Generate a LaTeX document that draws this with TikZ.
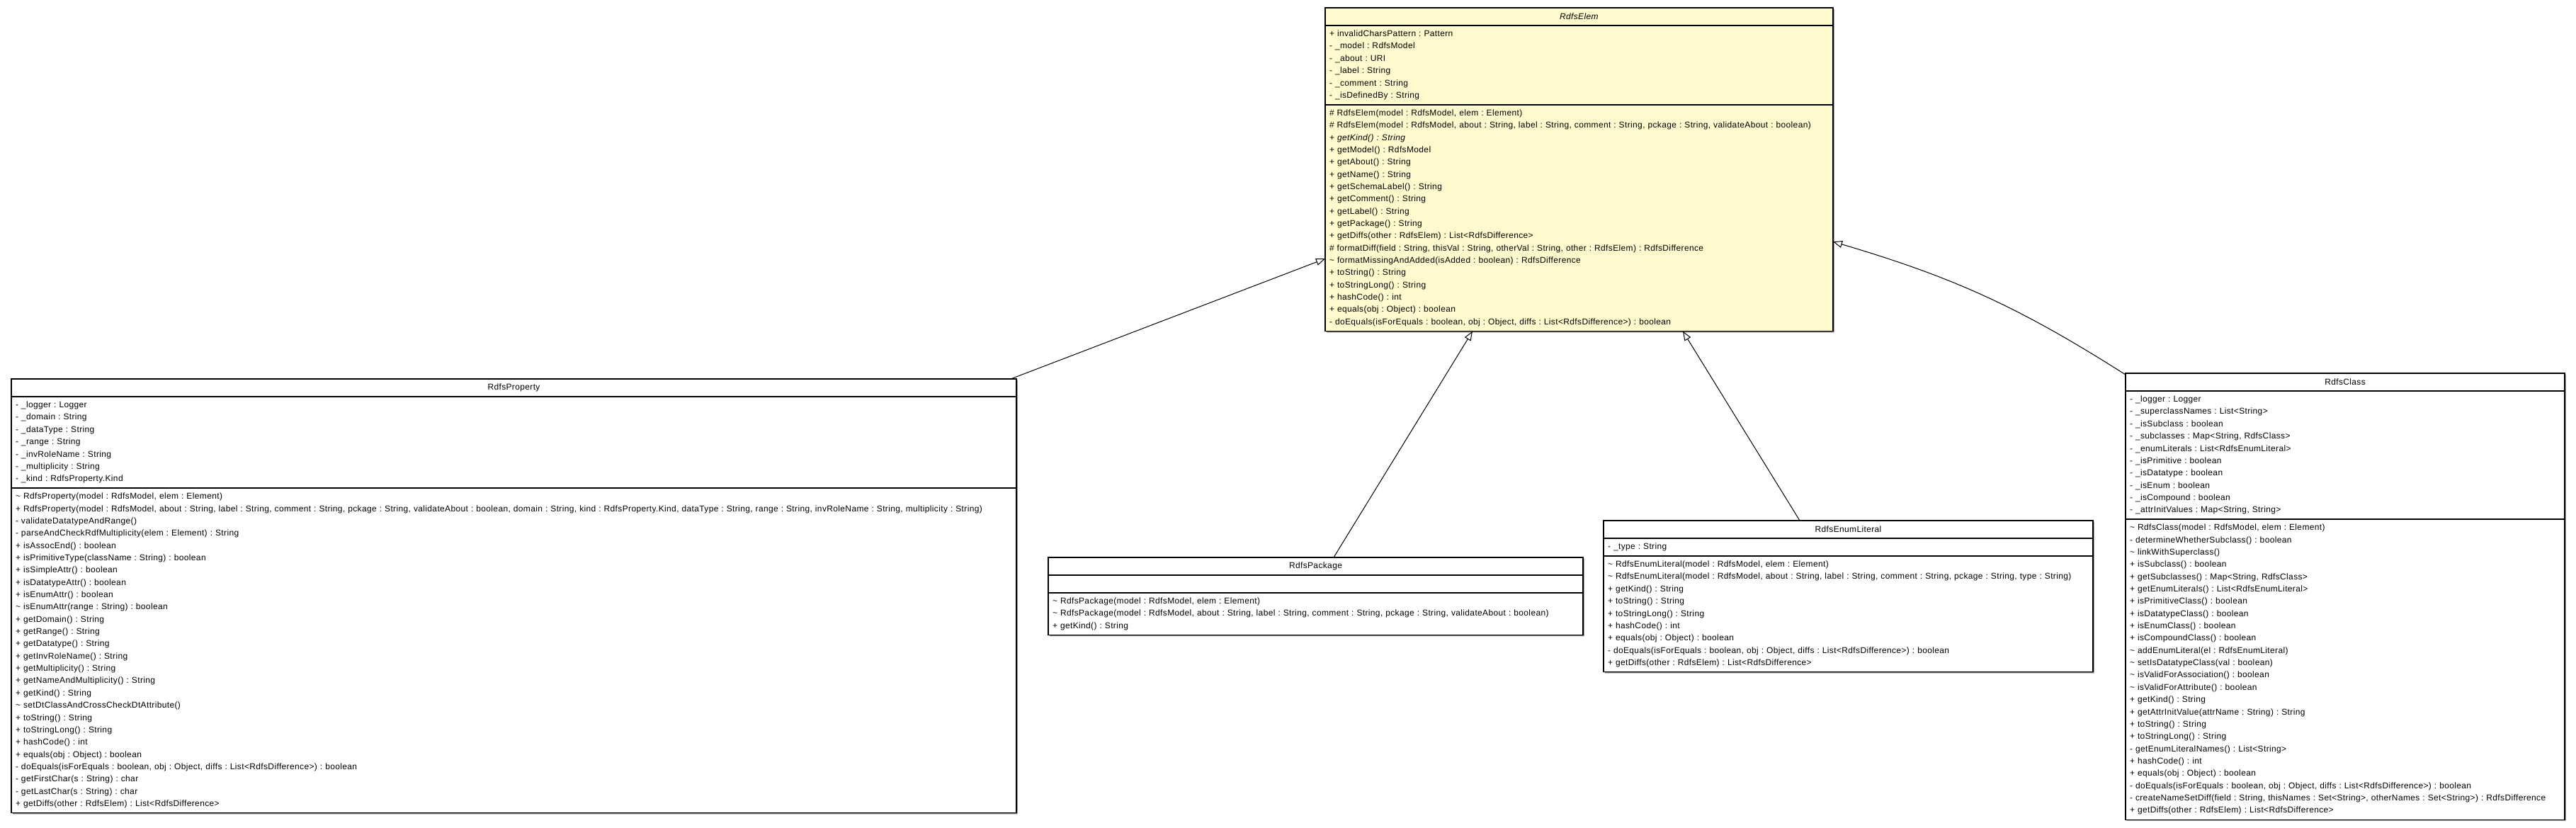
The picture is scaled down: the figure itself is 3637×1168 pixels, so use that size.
\documentclass[tikz,border=0pt]{standalone}
\usepackage{fontspec}
\setmainfont{Liberation Sans}[LetterSpace=3]
\usetikzlibrary{positioning,arrows.meta,backgrounds}
\definecolor{ElemYellow}{HTML}{FFFACD}
\definecolor{ShadowGray}{HTML}{6E6E6E}
\newcommand{\tld}{\textasciitilde}
\frenchspacing

\begin{document}
\begin{tikzpicture}[x=1pt,y=-1pt,
  every node/.style={font=\fontsize{12}{17.35}\selectfont},
  comp/.style={draw,line width=1.1pt,fill=white,outer sep=0pt,inner xsep=6pt,inner ysep=0pt,align=left},
  classtitle/.style={comp,align=center,minimum height=25pt},
  isa/.style={-{Triangle[open,length=13pt,width=10pt]},line width=1pt}]
  \useasboundingbox (0,0) rectangle (3637,1168);
  % RdfsElem
  \node[classtitle,fill=ElemYellow,text width=705pt,anchor=north west] (elemT) at (1871,11) {\textit{RdfsElem}};
  \node[comp,fill=ElemYellow,text width=705pt,minimum height=111.75pt,below=0pt of elemT] (elemA) {+ invalidCharsPattern : Pattern\\- \_model : RdfsModel\\- \_about : URI\\- \_label : String\\- \_comment : String\\- \_isDefinedBy : String};
  \node[comp,fill=ElemYellow,text width=705pt,minimum height=320pt,below=0pt of elemA] (elemM) {\# RdfsElem(model : RdfsModel, elem : Element)\\
    \# RdfsElem(model : RdfsModel, about : String, label : String, comment : String, pckage : String, validateAbout : boolean)\\
    \textit{+ getKind() : String}\\+ getModel() : RdfsModel\\+ getAbout() : String\\+ getName() : String\\+ getSchemaLabel() : String\\
    + getComment() : String\\+ getLabel() : String\\+ getPackage() : String\\+ getDiffs(other : RdfsElem) : List<RdfsDifference>\\
    \# formatDiff(field : String, thisVal : String, otherVal : String, other : RdfsElem) : RdfsDifference\\
    \tld{} formatMissingAndAdded(isAdded : boolean) : RdfsDifference\\+ toString() : String\\+ toStringLong() : String\\
    + hashCode() : int\\+ equals(obj : Object) : boolean\\- doEquals(isForEquals : boolean, obj : Object, diffs : List<RdfsDifference>) : boolean};
  % RdfsProperty
  \node[classtitle,text width=1407pt,anchor=north west] (propT) at (16,535) {RdfsProperty};
  \node[comp,text width=1407pt,minimum height=129.1pt,below=0pt of propT] (propA) {- \_logger : Logger\\- \_domain : String\\- \_dataType : String\\- \_range : String\\- \_invRoleName : String\\- \_multiplicity : String\\- \_kind : RdfsProperty.Kind};
  \node[comp,text width=1407pt,minimum height=458.75pt,below=0pt of propA] (propM) {\tld{} RdfsProperty(model : RdfsModel, elem : Element)\\
    + RdfsProperty(model : RdfsModel, about : String, label : String, comment : String, pckage : String, validateAbout : boolean, domain : String, kind : RdfsProperty.Kind, dataType : String, range : String, invRoleName : String, multiplicity : String)\\
    - validateDatatypeAndRange()\\- parseAndCheckRdfMultiplicity(elem : Element) : String\\+ isAssocEnd() : boolean\\
    + isPrimitiveType(className : String) : boolean\\+ isSimpleAttr() : boolean\\+ isDatatypeAttr() : boolean\\+ isEnumAttr() : boolean\\
    \tld{} isEnumAttr(range : String) : boolean\\+ getDomain() : String\\+ getRange() : String\\+ getDatatype() : String\\
    + getInvRoleName() : String\\+ getMultiplicity() : String\\+ getNameAndMultiplicity() : String\\+ getKind() : String\\
    \tld{} setDtClassAndCrossCheckDtAttribute()\\+ toString() : String\\+ toStringLong() : String\\+ hashCode() : int\\
    + equals(obj : Object) : boolean\\- doEquals(isForEquals : boolean, obj : Object, diffs : List<RdfsDifference>) : boolean\\
    - getFirstChar(s : String) : char\\- getLastChar(s : String) : char\\+ getDiffs(other : RdfsElem) : List<RdfsDifference>};
  % RdfsPackage
  \node[classtitle,text width=743pt,anchor=north west] (packT) at (1480,787) {RdfsPackage};
  \node[comp,text width=743pt,minimum height=25pt,below=0pt of packT] (packA) {};
  \node[comp,text width=743pt,minimum height=59.7pt,below=0pt of packA] (packM) {\tld{} RdfsPackage(model : RdfsModel, elem : Element)\\
    \tld{} RdfsPackage(model : RdfsModel, about : String, label : String, comment : String, pckage : String, validateAbout : boolean)\\+ getKind() : String};
  % RdfsEnumLiteral
  \node[classtitle,text width=679pt,anchor=north west] (litT) at (2264,735) {RdfsEnumLiteral};
  \node[comp,text width=679pt,minimum height=25pt,below=0pt of litT] (litA) {- \_type : String};
  \node[comp,text width=679pt,minimum height=163.8pt,below=0pt of litA] (litM) {\tld{} RdfsEnumLiteral(model : RdfsModel, elem : Element)\\
    \tld{} RdfsEnumLiteral(model : RdfsModel, about : String, label : String, comment : String, pckage : String, type : String)\\
    + getKind() : String\\+ toString() : String\\+ toStringLong() : String\\+ hashCode() : int\\+ equals(obj : Object) : boolean\\
    - doEquals(isForEquals : boolean, obj : Object, diffs : List<RdfsDifference>) : boolean\\+ getDiffs(other : RdfsElem) : List<RdfsDifference>};
  % RdfsClass
  \node[classtitle,text width=608pt,anchor=north west] (clsT) at (3001,527) {RdfsClass};
  \node[comp,text width=608pt,minimum height=181.15pt,below=0pt of clsT] (clsA) {- \_logger : Logger\\- \_superclassNames : List<String>\\- \_isSubclass : boolean\\
    - \_subclasses : Map<String, RdfsClass>\\- \_enumLiterals : List<RdfsEnumLiteral>\\- \_isPrimitive : boolean\\- \_isDatatype : boolean\\
    - \_isEnum : boolean\\- \_isCompound : boolean\\- \_attrInitValues : Map<String, String>};
  \node[comp,text width=608pt,minimum height=424.05pt,below=0pt of clsA] (clsM) {\tld{} RdfsClass(model : RdfsModel, elem : Element)\\
    - determineWhetherSubclass() : boolean\\\tld{} linkWithSuperclass()\\+ isSubclass() : boolean\\+ getSubclasses() : Map<String, RdfsClass>\\
    + getEnumLiterals() : List<RdfsEnumLiteral>\\+ isPrimitiveClass() : boolean\\+ isDatatypeClass() : boolean\\+ isEnumClass() : boolean\\
    + isCompoundClass() : boolean\\\tld{} addEnumLiteral(el : RdfsEnumLiteral)\\\tld{} setIsDatatypeClass(val : boolean)\\
    \tld{} isValidForAssociation() : boolean\\\tld{} isValidForAttribute() : boolean\\+ getKind() : String\\
    + getAttrInitValue(attrName : String) : String\\+ toString() : String\\+ toStringLong() : String\\- getEnumLiteralNames() : List<String>\\
    + hashCode() : int\\+ equals(obj : Object) : boolean\\- doEquals(isForEquals : boolean, obj : Object, diffs : List<RdfsDifference>) : boolean\\
    - createNameSetDiff(field : String, thisNames : Set<String>, otherNames : Set<String>) : RdfsDifference\\+ getDiffs(other : RdfsElem) : List<RdfsDifference>};
  % compartment rules and shadows
  \draw[line width=2pt] (elemA.north west) -- (elemA.north east) (elemM.north west) -- (elemM.north east)
    (propA.north west) -- (propA.north east) (propM.north west) -- (propM.north east)
    (packA.north west) -- (packA.north east) (packM.north west) -- (packM.north east)
    (litA.north west) -- (litA.north east) (litM.north west) -- (litM.north east)
    (clsA.north west) -- (clsA.north east) (clsM.north west) -- (clsM.north east);
  \begin{scope}[on background layer]
    \fill[ShadowGray] ([shift={(1.5pt,-1.5pt)}]elemT.north west) rectangle ([shift={(1.5pt,-1.5pt)}]elemM.south east)
      ([shift={(1.5pt,-1.5pt)}]propT.north west) rectangle ([shift={(1.5pt,-1.5pt)}]propM.south east)
      ([shift={(1.5pt,-1.5pt)}]packT.north west) rectangle ([shift={(1.5pt,-1.5pt)}]packM.south east)
      ([shift={(1.5pt,-1.5pt)}]litT.north west) rectangle ([shift={(1.5pt,-1.5pt)}]litM.south east)
      ([shift={(1.5pt,-1.5pt)}]clsT.north west) rectangle ([shift={(1.5pt,-1.5pt)}]clsM.south east);
  \end{scope}
  % generalisations
  \draw[isa] ([xshift=-8pt]propT.north east) -- ([yshift=-57.5pt]elemM.west);
  \draw[isa] ([xshift=25.5pt]packT.north) -- ([xshift=-150.5pt]elemM.south);
  \draw[isa] ([xshift=-68.5pt]litT.north) -- ([xshift=146.5pt]elemM.south);
  \draw[isa] ([yshift=-2pt]clsT.north west) to[bend right=8] ([yshift=-33.5pt]elemM.east);
\end{tikzpicture}
\end{document}
